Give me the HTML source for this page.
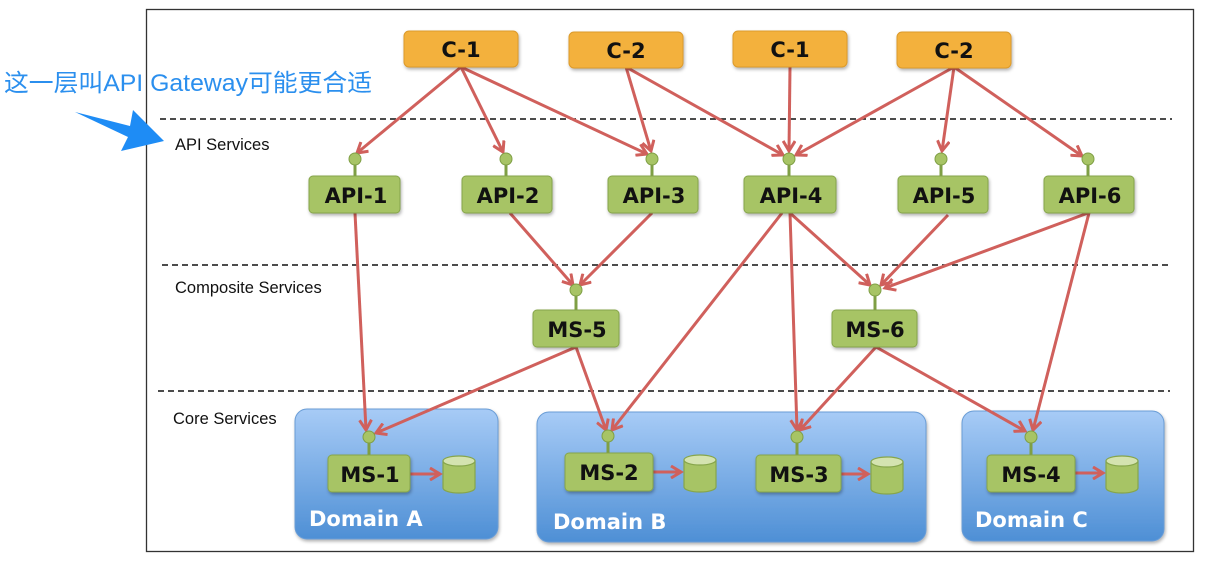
<!DOCTYPE html>
<html><head><meta charset="utf-8">
<style>
html,body{margin:0;padding:0;background:#fff;}
svg{display:block;}
.lbl{font-family:"Liberation Sans","DejaVu Sans",sans-serif;font-size:16.5px;fill:#111;}
.nb{font-family:"DejaVu Sans","Liberation Sans",sans-serif;font-weight:bold;font-size:21px;fill:#111;text-anchor:middle;}
.dm{font-family:"DejaVu Sans","Liberation Sans",sans-serif;font-weight:bold;font-size:21px;fill:#fff;}
</style></head>
<body>
<svg width="1212" height="563" viewBox="0 0 1212 563" xmlns="http://www.w3.org/2000/svg">
<defs>
<marker id="ah" markerWidth="14" markerHeight="14" refX="11" refY="7" orient="auto" markerUnits="userSpaceOnUse">
<polyline points="1,1 11,7 1,13" fill="none" stroke="#d0605c" stroke-width="3"/>
</marker>
<linearGradient id="dg" x1="0" y1="0" x2="0" y2="1">
<stop offset="0" stop-color="#a7cbf6"/><stop offset="1" stop-color="#4e8fd5"/>
</linearGradient>
<filter id="sh" x="-10%" y="-10%" width="130%" height="140%"><feDropShadow dx="1" dy="2" stdDeviation="1.5" flood-opacity="0.3"/></filter>
</defs>
<rect x="146.5" y="9.5" width="1047" height="542" fill="#fff" stroke="#333" stroke-width="1.3"/>
<g stroke="#111" stroke-width="1.4" stroke-dasharray="6,4">
<line x1="160" y1="119" x2="1172" y2="119"/>
<line x1="162" y1="265" x2="1172" y2="265"/>
<line x1="158" y1="391" x2="1170" y2="391"/>
</g>
<text class="lbl" x="175" y="150">API Services</text>
<text class="lbl" x="175" y="293">Composite Services</text>
<text class="lbl" x="173" y="424">Core Services</text>

<g filter="url(#sh)">
<rect x="295" y="409" width="203" height="130" rx="12" fill="url(#dg)" stroke="#6a9dd6"/>
<rect x="537" y="412" width="389" height="130" rx="12" fill="url(#dg)" stroke="#6a9dd6"/>
<rect x="962" y="411" width="202" height="130" rx="12" fill="url(#dg)" stroke="#6a9dd6"/>
</g>
<text class="dm" x="309" y="526">Domain A</text>
<text class="dm" x="553" y="529">Domain B</text>
<text class="dm" x="975" y="527">Domain C</text>

<g stroke="#d0605c" stroke-width="3" fill="none" marker-end="url(#ah)">
<line x1="461" y1="67" x2="357" y2="153"/>
<line x1="461" y1="67" x2="503" y2="152"/>
<line x1="461" y1="67" x2="647" y2="154"/>
<line x1="626" y1="67" x2="651" y2="151"/>
<line x1="626" y1="67" x2="783" y2="155"/>
<line x1="790" y1="67" x2="789" y2="151"/>
<line x1="954" y1="67" x2="796" y2="155"/>
<line x1="954" y1="67" x2="942" y2="151"/>
<line x1="954" y1="67" x2="1082" y2="156"/>
<line x1="355" y1="213" x2="366" y2="430"/>
<line x1="510" y1="213" x2="573" y2="285"/>
<line x1="652" y1="213" x2="580" y2="285"/>
<line x1="782" y1="213" x2="612" y2="430"/>
<line x1="790" y1="213" x2="797" y2="430"/>
<line x1="790" y1="213" x2="870" y2="285"/>
<line x1="948" y1="215" x2="881" y2="285"/>
<line x1="1088" y1="213" x2="885" y2="288"/>
<line x1="1089" y1="213" x2="1033" y2="430"/>
<line x1="576" y1="347" x2="376" y2="433"/>
<line x1="576" y1="347" x2="606" y2="430"/>
<line x1="876" y1="347" x2="800" y2="430"/>
<line x1="876" y1="347" x2="1025" y2="431"/>
<line x1="410" y1="474" x2="440" y2="474"/>
<line x1="653" y1="472" x2="681" y2="472"/>
<line x1="841" y1="474" x2="868" y2="474"/>
<line x1="1075" y1="473" x2="1103" y2="473"/>
</g>

<g filter="url(#sh)" fill="#f3b13d" stroke="#dc9a2c">
<rect x="404" y="31" width="114" height="36" rx="5"/>
<rect x="569" y="32" width="114" height="36" rx="5"/>
<rect x="733" y="31" width="114" height="36" rx="5"/>
<rect x="897" y="32" width="114" height="36" rx="5"/>
</g>
<text class="nb" x="461" y="57">C-1</text>
<text class="nb" x="626" y="58">C-2</text>
<text class="nb" x="790" y="57">C-1</text>
<text class="nb" x="954" y="58">C-2</text>

<g stroke="#7f9f45" stroke-width="3">
<line x1="355" y1="159" x2="355" y2="176"/><line x1="506" y1="159" x2="506" y2="176"/>
<line x1="652" y1="159" x2="652" y2="176"/><line x1="789" y1="159" x2="789" y2="176"/>
<line x1="941" y1="159" x2="941" y2="176"/><line x1="1088" y1="159" x2="1088" y2="176"/>
<line x1="576" y1="290" x2="576" y2="310"/><line x1="875" y1="290" x2="875" y2="310"/>
<line x1="369" y1="437" x2="369" y2="455"/><line x1="608" y1="436" x2="608" y2="453"/>
<line x1="797" y1="437" x2="797" y2="455"/><line x1="1031" y1="437" x2="1031" y2="455"/>
</g>
<g fill="#a7c465" stroke="#7f9f45" stroke-width="1">
<circle cx="355" cy="159" r="6"/><circle cx="506" cy="159" r="6"/><circle cx="652" cy="159" r="6"/>
<circle cx="789" cy="159" r="6"/><circle cx="941" cy="159" r="6"/><circle cx="1088" cy="159" r="6"/>
<circle cx="576" cy="290" r="6"/><circle cx="875" cy="290" r="6"/>
<circle cx="369" cy="437" r="6"/><circle cx="608" cy="436" r="6"/><circle cx="797" cy="437" r="6"/><circle cx="1031" cy="437" r="6"/>
</g>

<g filter="url(#sh)" fill="#a7c465" stroke="#86a54b">
<rect x="309" y="176" width="91" height="37" rx="4"/>
<rect x="462" y="176" width="90" height="37" rx="4"/>
<rect x="608" y="176" width="90" height="37" rx="4"/>
<rect x="744" y="176" width="92" height="37" rx="4"/>
<rect x="898" y="176" width="90" height="37" rx="4"/>
<rect x="1044" y="176" width="90" height="37" rx="4"/>
<rect x="533" y="310" width="86" height="37" rx="4"/>
<rect x="832" y="310" width="85" height="37" rx="4"/>
<rect x="328" y="455" width="82" height="37" rx="4"/>
<rect x="565" y="453" width="88" height="38" rx="4"/>
<rect x="756" y="455" width="85" height="37" rx="4"/>
<rect x="987" y="455" width="88" height="37" rx="4"/>
</g>
<text class="nb" x="356" y="203">API-1</text>
<text class="nb" x="508" y="203">API-2</text>
<text class="nb" x="654" y="203">API-3</text>
<text class="nb" x="791" y="203">API-4</text>
<text class="nb" x="944" y="203">API-5</text>
<text class="nb" x="1090" y="203">API-6</text>
<text class="nb" x="577" y="337">MS-5</text>
<text class="nb" x="875" y="337">MS-6</text>
<text class="nb" x="370" y="482">MS-1</text>
<text class="nb" x="609" y="480">MS-2</text>
<text class="nb" x="799" y="482">MS-3</text>
<text class="nb" x="1031" y="482">MS-4</text>

<g fill="#a7c465" stroke="#86a54b" stroke-width="1.2">
<g transform="translate(443,456)"><path d="M0,5 V32 A16,5 0 0 0 32,32 V5"/><ellipse cx="16" cy="5" rx="16" ry="5" fill="#d4e3b0"/></g>
<g transform="translate(684,455)"><path d="M0,5 V32 A16,5 0 0 0 32,32 V5"/><ellipse cx="16" cy="5" rx="16" ry="5" fill="#d4e3b0"/></g>
<g transform="translate(871,457)"><path d="M0,5 V32 A16,5 0 0 0 32,32 V5"/><ellipse cx="16" cy="5" rx="16" ry="5" fill="#d4e3b0"/></g>
<g transform="translate(1106,456)"><path d="M0,5 V32 A16,5 0 0 0 32,32 V5"/><ellipse cx="16" cy="5" rx="16" ry="5" fill="#d4e3b0"/></g>
</g>

<text x="4" y="91" textLength="368" lengthAdjust="spacingAndGlyphs" font-family="'Liberation Sans','Noto Sans CJK SC',sans-serif" font-size="24" fill="#2b8fee" stroke="#fff" stroke-width="4" paint-order="stroke">这一层叫API Gateway可能更合适</text>
<polygon points="75,112 130,126 133,110 164,141 121,151 128,137" fill="#1e8cf5"/>
</svg>
</body></html>
